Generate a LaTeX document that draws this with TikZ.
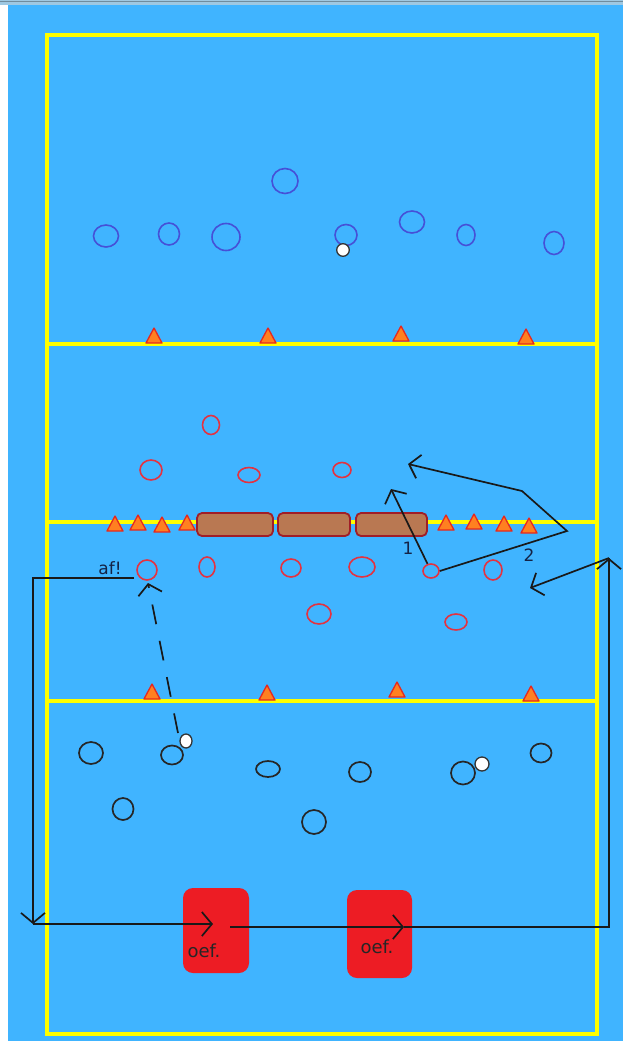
\documentclass[tikz,border=0pt]{standalone}
\usepackage{fontspec}
\setmainfont{DejaVu Sans}
\usetikzlibrary{arrows.meta,shapes.geometric}
\definecolor{court}{RGB}{64,180,255}
\definecolor{topband}{RGB}{158,200,226}
\definecolor{lineyel}{RGB}{255,255,0}
\definecolor{bluec}{RGB}{70,80,215}
\definecolor{redc}{RGB}{228,50,64}
\definecolor{conefill}{RGB}{255,128,32}
\definecolor{coneedge}{RGB}{230,40,30}
\definecolor{benchfill}{RGB}{185,120,82}
\definecolor{benchedge}{RGB}{160,30,40}
\definecolor{boxred}{RGB}{237,28,36}
\definecolor{navy}{RGB}{20,35,70}
\tikzset{
  bluep/.style={draw=bluec,line width=1.6pt},
  redp/.style={draw=redc,line width=1.6pt},
  blackp/.style={draw=black!85,line width=1.7pt},
  ball/.style={draw=black!80,fill=white,line width=1.3pt},
  cone/.style={draw=coneedge,fill=conefill,line width=1.3pt,line join=round},
  bench/.style={draw=benchedge,fill=benchfill,line width=1.8pt,rounded corners=5pt},
  oefbox/.style={fill=boxred,rounded corners=10pt},
  run/.style={draw=black!90,line width=1.7pt,-{Straight Barb[length=10pt,width=24pt,line width=1.7pt]}},
  plainrun/.style={draw=black!90,line width=1.7pt},
  lbl/.style={font=\fontsize{17}{17}\selectfont,text=navy,inner sep=0pt},
}
\newcommand{\conetri}[2]{\fill[cone] (#1-8,#2+7) -- (#1,#2-8) -- (#1+8,#2+7) -- cycle;}
\begin{document}
\begin{tikzpicture}[x=1pt,y=-1pt]
\useasboundingbox (0,0) rectangle (623,1041);
% background
\fill[white] (0,0) rectangle (623,1041);
\fill[court] (8,5) rectangle (623,1041);
\fill[topband] (0,0) rectangle (623,5);
\draw[topband!70!black,line width=0.8pt] (0,1) -- (623,1);
% court lines
\draw[lineyel,line width=3.2pt] (47,35) rectangle (597,1034);
\draw[lineyel,line width=3.2pt] (47,344) -- (597,344);
\draw[lineyel,line width=3.2pt] (47,522) -- (597,522);
\draw[lineyel,line width=3.2pt] (47,701) -- (597,701);
% blue players
\draw[bluep] (285,181) ellipse [x radius=13,y radius=12.5];
\draw[bluep] (106,236) ellipse [x radius=12.5,y radius=11];
\draw[bluep] (169,234) ellipse [x radius=10.5,y radius=11];
\draw[bluep] (226,237) ellipse [x radius=14,y radius=13.5];
\draw[bluep] (346,235) ellipse [x radius=11,y radius=10.5];
\draw[bluep] (412,222) ellipse [x radius=12.5,y radius=11];
\draw[bluep] (466,235) ellipse [x radius=9,y radius=10.5];
\draw[bluep] (554,243) ellipse [x radius=10,y radius=11.5];
\draw[ball] (343,250) circle (6.3);
% cones at first line
\conetri{154}{336}
\conetri{268}{336}
\conetri{401}{334}
\conetri{526}{337}
% red players
\draw[redp] (211,425) ellipse [x radius=8.5,y radius=9.5];
\draw[redp] (151,470) ellipse [x radius=11,y radius=10];
\draw[redp] (249,475) ellipse [x radius=11,y radius=7.5];
\draw[redp] (342,470) ellipse [x radius=9,y radius=7.5];
\node[redp,circle,minimum size=20pt,inner sep=0pt] (af) at (147,570) {};
\draw[redp] (207,567) ellipse [x radius=8,y radius=10];
\draw[redp] (291,568) ellipse [x radius=10,y radius=9];
\draw[redp] (362,567) ellipse [x radius=13,y radius=10];
\node[redp,ellipse,minimum width=16pt,minimum height=14pt,inner sep=0pt] (p1) at (431,571) {};
\draw[redp] (493,570) ellipse [x radius=9,y radius=10];
\draw[redp] (319,614) ellipse [x radius=12,y radius=10];
\draw[redp] (456,622) ellipse [x radius=11,y radius=8];
% benches
\draw[bench] (197,513) rectangle (273,536);
\draw[bench] (278,513) rectangle (350,536);
\draw[bench] (356,513) rectangle (427,536);
% cones on middle line
\conetri{115}{524}
\conetri{138}{523}
\conetri{162}{525}
\conetri{187}{523}
\conetri{446}{523}
\conetri{474}{522}
\conetri{504}{524}
\conetri{529}{526}
% cones on third line
\conetri{152}{692}
\conetri{267}{693}
\conetri{397}{690}
\conetri{531}{694}
% black players
\draw[blackp] (91,753) ellipse [x radius=12,y radius=11];
\draw[blackp] (172,755) ellipse [x radius=11,y radius=9.5];
\draw[blackp] (268,769) ellipse [x radius=12,y radius=8];
\draw[blackp] (360,772) ellipse [x radius=11,y radius=10];
\draw[blackp] (463,773) ellipse [x radius=12,y radius=11.5];
\draw[blackp] (541,753) ellipse [x radius=10.5,y radius=9.5];
\draw[blackp] (123,809) ellipse [x radius=10.5,y radius=11];
\draw[blackp] (314,822) ellipse [x radius=12,y radius=12];
\node[ball,ellipse,minimum width=12pt,minimum height=14pt,inner sep=0pt] (b1) at (186,741) {};
\node[ball,circle,minimum size=14pt,inner sep=0pt] (b2) at (482,764) {};
% oef boxes
\node[oefbox,minimum width=66pt,minimum height=85pt] (o1) at (216,930.5) {};
\node[oefbox,minimum width=65pt,minimum height=88pt] (o2) at (379.5,934) {};
\node[font=\fontsize{18}{18}\selectfont,text=black!85,inner sep=0pt] at (204,951) {oef.};
\node[font=\fontsize{18}{18}\selectfont,text=black!85,inner sep=0pt] at (377,947) {oef.};
% labels
\node[lbl] at (110,568) {af!};
\node[lbl] at (408,548) {1};
\node[lbl] at (529,555) {2};
% coordinates for runs
\coordinate (a0) at (134,578);
\coordinate (a1) at (33,578);
\coordinate (a2) at (33,924);
\coordinate (a3) at (213,924);
\coordinate (c0) at (230,927);
\coordinate (c1) at (404,927);
\coordinate (c2) at (609,927);
\coordinate (c3) at (609,558);
\coordinate (c4) at (530,588);
\coordinate (t1) at (391,489);
\coordinate (q1) at (567,531);
\coordinate (q2) at (522,491);
\coordinate (t2) at (408,464);
\coordinate (d0) at (178,733);
\coordinate (d1) at (148,583);
% runs
\draw[run] (a0) -- (a1) -- (a2);
\draw[run] (a2) -- (a3);
\draw[run] (c0) -- (c1);
\draw[plainrun] (c1) -- (c2) -- (c3);
\draw[run] (c2) -- (c3);
\draw[run] (c3) -- (c4);
\draw[run] (p1) -- (t1);
\draw[run] (p1.east) -- (q1) -- (q2) -- (t2);
\draw[run,dash pattern=on 20pt off 17pt] (d0) -- (d1);
\end{tikzpicture}
\end{document}
